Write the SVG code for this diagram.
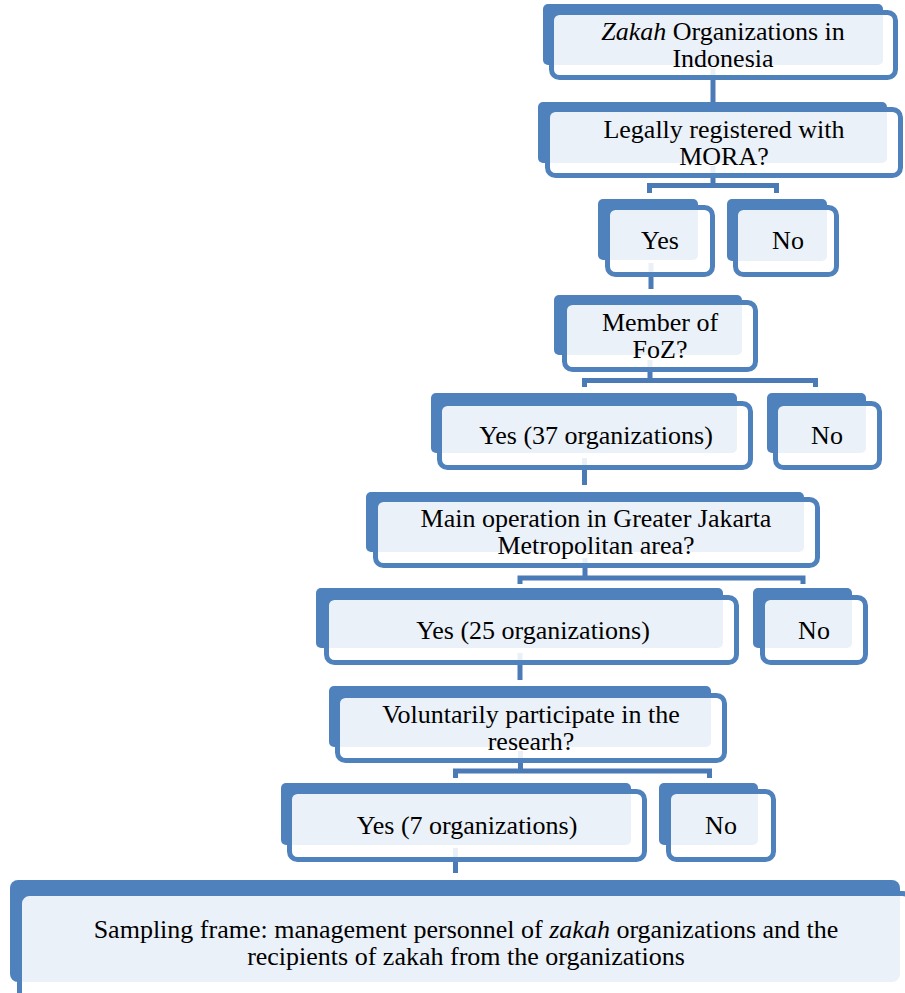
<svg xmlns="http://www.w3.org/2000/svg" width="905" height="993" viewBox="0 0 905 993">
<style>
.b{fill:#4F81BD;}
.f{fill:#FFFFFF;fill-opacity:0.89;stroke:#4F81BD;stroke-width:5;}
.c{fill:none;stroke:#4A7BB7;stroke-width:5;}
text{font-family:"Liberation Serif","Times New Roman",serif;font-size:26px;fill:#000;text-anchor:middle;}
.i{font-style:italic;}
</style>
<rect width="905" height="993" fill="#FFFFFF"/>
<g id="connectors">
<path class="c" d="M713,68V102"/>
<path class="c" d="M713,166V185.5M649.5,193V185.5H776.5V193"/>
<path class="c" d="M651,263V289"/>
<path class="c" d="M650,360V380.5M584.5,387V380.5H815.5V387"/>
<path class="c" d="M584.5,458V485"/>
<path class="c" d="M585,558V578M520,584V578H803V584"/>
<path class="c" d="M520,653V680"/>
<path class="c" d="M520.5,751V771M455.5,778V771H709.5V778"/>
<path class="c" d="M455.5,848V873"/>
</g>
<g id="n1"><rect class="b" x="543" y="4" width="340" height="61" rx="5"/><rect class="f" x="551.5" y="12.5" width="344" height="65" rx="8"/>
<text x="723" y="40"><tspan class="i">Zakah</tspan> Organizations in</text><text x="723" y="67">Indonesia</text></g>
<g id="n2"><rect class="b" x="538" y="102" width="349" height="61" rx="5"/><rect class="f" x="547.5" y="109.5" width="353" height="66" rx="8"/>
<text x="724" y="138">Legally registered with</text><text x="724" y="165">MORA?</text></g>
<g id="n3"><rect class="b" x="598" y="199" width="100" height="61" rx="5"/><rect class="f" x="607.5" y="207.5" width="105" height="67" rx="8"/>
<text x="660" y="249">Yes</text></g>
<g id="n4"><rect class="b" x="727" y="199" width="100" height="62" rx="5"/><rect class="f" x="735.5" y="207.5" width="101" height="67" rx="8"/>
<text x="788" y="249">No</text></g>
<g id="n5"><rect class="b" x="554" y="295" width="188" height="60" rx="5"/><rect class="f" x="564.5" y="302.5" width="191" height="67" rx="8"/>
<text x="660" y="331">Member of</text><text x="660" y="358">FoZ?</text></g>
<g id="n6"><rect class="b" x="431" y="393" width="306" height="60" rx="5"/><rect class="f" x="439.5" y="403.5" width="311" height="64" rx="8"/>
<text x="596" y="444">Yes (37 organizations)</text></g>
<g id="n7"><rect class="b" x="767" y="393" width="99" height="60" rx="5"/><rect class="f" x="775.5" y="403.5" width="104" height="64" rx="8"/>
<text x="827" y="444">No</text></g>
<g id="n8"><rect class="b" x="366" y="492" width="438" height="60" rx="5"/><rect class="f" x="375.5" y="499.5" width="442" height="66" rx="8"/>
<text x="596" y="527">Main operation in Greater Jakarta</text><text x="596" y="554">Metropolitan area?</text></g>
<g id="n9"><rect class="b" x="316" y="588" width="407" height="60" rx="5"/><rect class="f" x="326.5" y="597.5" width="410" height="65" rx="8"/>
<text x="533" y="639">Yes (25 organizations)</text></g>
<g id="n10"><rect class="b" x="753" y="588" width="99" height="60" rx="5"/><rect class="f" x="762.5" y="597.5" width="103" height="65" rx="8"/>
<text x="814" y="639">No</text></g>
<g id="n11"><rect class="b" x="329" y="686" width="382" height="61" rx="5"/><rect class="f" x="337.5" y="695.5" width="387" height="65" rx="8"/>
<text x="531" y="723">Voluntarily participate in the</text><text x="531" y="750">researh?</text></g>
<g id="n12"><rect class="b" x="281" y="783" width="350" height="62" rx="5"/><rect class="f" x="289.5" y="791.5" width="355" height="68" rx="8"/>
<text x="467" y="834">Yes (7 organizations)</text></g>
<g id="n13"><rect class="b" x="659" y="783" width="99" height="62" rx="5"/><rect class="f" x="668.5" y="791.5" width="105" height="68" rx="8"/>
<text x="721" y="834">No</text></g>
<g id="n14"><rect class="b" x="10" y="880" width="890" height="102" rx="8"/><rect class="f" x="19.5" y="893.5" width="893" height="110" rx="10"/>
<text x="466" y="938">Sampling frame: management personnel of <tspan class="i">zakah</tspan> organizations and the</text><text x="466" y="965">recipients of zakah from the organizations</text></g>
</svg>
